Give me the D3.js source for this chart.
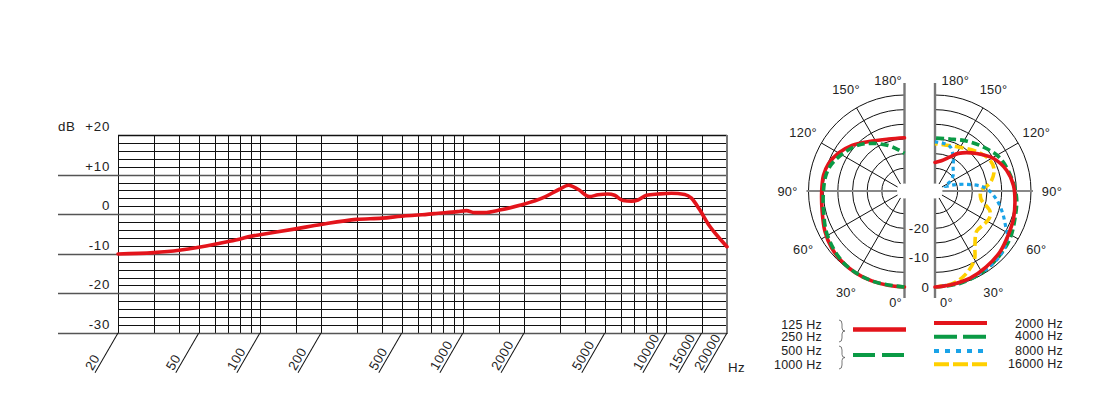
<!DOCTYPE html>
<html><head><meta charset="utf-8">
<script src="https://cdn.jsdelivr.net/npm/d3@7"></script>
<style>
html,body{margin:0;padding:0;background:#fff;}
text{font-family:"Liberation Sans",Arial,sans-serif;fill:#222;}
</style></head>
<body>
<svg id="chart" width="1108" height="414"></svg>
<script>
// ---------- frequency response data ----------
const freqTicks = [20,50,100,200,500,1000,2000,5000,10000,15000,20000];
const freqTickLabels = ["20","50","100","200","500","1000","2000","5000","10000","15000","20000"];
const gridFreqs = [20,30,40,50,60,70,80,90,100,150,200,300,400,500,600,700,800,900,1000,1500,2000,3000,4000,5000,6000,7000,8000,9000,10000,15000,20000];
const dbMajor = [20,10,0,-10,-20,-30];
const dbMajorLabels = ["+20","+10","0","-10","-20","-30"];
const dbMinor = [18,16,14,12,8,6,4,2,-2,-4,-6,-8,-12,-14,-16,-18,-22,-24,-26,-28];
const respFreq = [20,30,40,50,60,70,80,90,100,150,200,300,400,500,630,720,940,1040,1140,1275,1540,1930,2520,2990,3310,3690,4200,4630,5180,5590,6150,6760,7290,8010,9150,10640,12380,13360,14680,16150,18090,20000];
const respDb = [-10.05,-9.7,-9.1,-8.35,-7.6,-6.9,-6.25,-5.6,-5.2,-3.7,-2.6,-1.3,-1.0,-0.5,-0.15,0.15,0.66,0.9,0.4,0.4,1.1,2.3,4.3,6.3,7.3,6.3,4.45,4.9,5.1,4.8,3.45,3.3,3.6,4.8,5.1,5.3,5.0,4.05,1.1,-2.45,-5.7,-8.2];

// ---------- polar data (angle in degrees, level in dB) ----------
const ringDb = [0,-5,-10,-15,-20,-25];
const ringLabelDb = [0,-10,-20];
const spokeAngles = [30,60,120,150];
const angleLabels = [0,30,60,90,120,150,180];
const lowAng = [0,10,20,31,42,52,63,76,90,101,110,120,131,147,163,180];
const lowDb  = [0,-0.1,-0.1,-0.2,-0.6,-1.2,-2.3,-3.8,-4.5,-4.6,-5.2,-6.8,-9.0,-12.4,-14.2,-14.6];
const midAng = [0,20,40,60,76,90,101,110,122,135,148,161,172,180];
const midDb  = [0,-0.1,-0.6,-2.4,-4.3,-5.1,-5.4,-6.2,-8.3,-10.6,-13.6,-16.4,-18.6,-19.9];
const hz2000Ang = [0,9,22,34,47,59,71,82,94,106,119,132,148,156,168,180];
const hz2000Db  = [0,-0.3,-0.7,-1.5,-2.4,-3.6,-4.4,-5.2,-5.9,-7.3,-9.9,-13.6,-17.6,-20,-22.2,-23];
const hz4000Ang = [0,15,31,45,58,71,85,99,117,132,148,164,180];
const hz4000Db  = [0,-0.1,-0.7,-1.6,-2.5,-3.9,-4.8,-6.2,-7.9,-10.4,-12.6,-14.3,-14.7];
const hz8000Ang = [0,15,25,35,45,52,58,64,72,82,91,96,102,108,115,122,132,142,152,161,170,180];
const hz8000Db  = [0,-0.4,-0.7,-0.9,-1.4,-2.3,-3.6,-6,-8.5,-11.5,-14.5,-17,-21.7,-26,-29,-26.7,-24.3,-22.7,-19.5,-16.8,-16.2,-16];
const hz16000Ang = [0,11,21,30,36,46,55,63,70,80,90,99,110,120,135,155,180];
const hz16000Db  = [0,-0.6,-2.7,-5.8,-9.6,-13,-12.6,-12,-12.8,-16.8,-17,-13.5,-11.3,-11.3,-13.4,-16,-16.6];

const legendLeft = ["125 Hz","250 Hz","500 Hz","1000 Hz"];
const legendRight = ["2000 Hz","4000 Hz","8000 Hz","16000 Hz"];

const RED="#e3141b", GREEN="#0a9a45", BLUE="#1aa3e8", YELLOW="#ffd000";

const svg = d3.select("#chart");
svg.append("rect").attr("width",1108).attr("height",414).attr("fill","#fff");

// ================= frequency response =================
const x = d3.scaleLog().domain([20,20000]).range([118,727]);
const y = d3.scaleLinear().domain([-30,20]).range([333,135]);
const px = v => Math.round(v)+0.5;
const g = svg.append("g");

g.selectAll("line.hmin").data(dbMinor).enter().append("line")
  .attr("x1",x(20)).attr("x2",x(20000)).attr("y1",d=>px(y(d))).attr("y2",d=>px(y(d)))
  .attr("stroke","#111").attr("stroke-width",1);
g.selectAll("line.v").data(gridFreqs).enter().append("line")
  .attr("x1",d=>px(x(d))).attr("x2",d=>px(x(d))).attr("y1",y(20)).attr("y2",y(-30))
  .attr("stroke","#111").attr("stroke-width",1);
g.selectAll("line.hmaj").data(dbMajor).enter().append("line")
  .attr("x1",d=>d===20?x(20):58).attr("x2",x(20000)).attr("y1",d=>px(y(d))).attr("y2",d=>px(y(d)))
  .attr("stroke",d=>d===20?"#111":"#555").attr("stroke-width",1.4);
g.append("line").attr("x1",x(20000)).attr("x2",x(20000)).attr("y1",y(20)).attr("y2",y(-30)+1)
  .attr("stroke","#777").attr("stroke-width",2);
g.selectAll("text.yl").data(dbMajor).enter().append("text")
  .attr("x",110).attr("y",d=>y(d)-4).attr("text-anchor","end")
  .attr("font-size",13.3).attr("letter-spacing",0.7)
  .text((d,i)=>dbMajorLabels[i]);
g.append("text").attr("x",58).attr("y",y(20)-4).attr("font-size",13.3).attr("letter-spacing",0.7).text("dB");
const tk = g.selectAll("g.tk").data(freqTicks).enter().append("g")
  .attr("transform",d=>`translate(${x(d)},${y(-30)}) rotate(-60)`);
tk.append("line").attr("x1",0).attr("x2",-46).attr("y1",0).attr("y2",0).attr("stroke","#111").attr("stroke-width",1);
tk.append("text").attr("x",-46).attr("y",-3).attr("font-size",13.3).attr("letter-spacing",0.5)
  .text((d,i)=>freqTickLabels[i]);
g.append("text").attr("x",728).attr("y",372).attr("font-size",13.3).attr("letter-spacing",0.5).text("Hz");
const resp = respFreq.map((f,i)=>[f,respDb[i]]);
g.append("path").datum(resp)
  .attr("d",d3.line().x(d=>x(d[0])).y(d=>y(d[1])).curve(d3.curveMonotoneX))
  .attr("fill","none").attr("stroke",RED).attr("stroke-width",3.6).attr("stroke-linecap","round").attr("stroke-linejoin","round");

// ================= polar =================
const r = d3.scaleLinear().domain([-30,0]).range([8,96]);
const cy = 191;
const halves = [{cx:904.5, side:-1},{cx:935, side:1}];
const rad = a => a*Math.PI/180;

halves.forEach(h=>{
  const pg = svg.append("g").attr("transform",`translate(${h.cx},${cy})`);
  ringDb.forEach(db=>{
    const p = d3.path();
    if(h.side<0){ p.arc(0,0,r(db),Math.PI/2,3*Math.PI/2,false); }
    else { p.arc(0,0,r(db),-Math.PI/2,Math.PI/2,false); }
    pg.append("path").attr("d",p.toString()).attr("fill","none").attr("stroke","#111").attr("stroke-width",1);
  });
  spokeAngles.forEach(a=>{
    pg.append("line")
      .attr("x1",h.side*r(-30)*Math.sin(rad(a))).attr("y1",r(-30)*Math.cos(rad(a)))
      .attr("x2",h.side*r(0)*Math.sin(rad(a))).attr("y2",r(0)*Math.cos(rad(a)))
      .attr("stroke","#111").attr("stroke-width",1);
  });
  pg.append("line").attr("x1",h.side*5).attr("x2",h.side*(r(0)+2)).attr("y1",0).attr("y2",0)
    .attr("stroke","#888").attr("stroke-width",2);
  pg.append("line").attr("x1",0).attr("x2",0).attr("y1",-108).attr("y2",107)
    .attr("stroke","#777").attr("stroke-width",2.4);
  pg.append("circle").attr("r",7.5).attr("fill","#fff");
  angleLabels.forEach(a=>{
    let tx, ty, anchor="middle";
    if(a===180){ tx = h.side<0?-2.5:6.5; ty=-106; anchor=h.side<0?"end":"start"; }
    else if(a===0){ tx = h.side<0?-2.5:5; ty=116; anchor=h.side<0?"end":"start"; }
    else { const R=117; tx=h.side*R*Math.sin(rad(a)); ty=R*Math.cos(rad(a))+4.5; }
    pg.append("text").attr("x",tx).attr("y",ty).attr("text-anchor",anchor)
      .attr("font-size",12.8).attr("letter-spacing",0.3).text(a+"°");
  });
});
ringLabelDb.forEach(db=>{
  svg.append("text").attr("x",929.5).attr("y",cy+r(db)+4.5).attr("text-anchor","end")
    .attr("font-size",13.3).attr("letter-spacing",0.5).text(String(db));
});

function polarLine(cx, side, angs, dbs, color, dash, width){
  const data = angs.map((a,i)=>[a,dbs[i]]);
  const ln = d3.lineRadial()
    .angle(d => side<0 ? Math.PI + rad(d[0]) : Math.PI - rad(d[0]))
    .radius(d => r(d[1]))
    .curve(d3.curveCatmullRom.alpha(0.5));
  svg.append("path").datum(data)
    .attr("transform",`translate(${cx},${cy})`)
    .attr("d",ln).attr("fill","none").attr("stroke",color).attr("stroke-width",width)
    .attr("stroke-dasharray",dash).attr("stroke-linecap",dash?"butt":"round");
}
polarLine(904.5,-1,lowAng,lowDb,RED,null,3.6);
polarLine(904.5,-1,midAng,midDb,GREEN,"8,4",3.6);
polarLine(935,1,hz4000Ang,hz4000Db,GREEN,"8,4",3.6);
polarLine(935,1,hz16000Ang,hz16000Db,YELLOW,"9,4",3.6);
polarLine(935,1,hz8000Ang,hz8000Db,BLUE,"4,3.5",3.2);
polarLine(935,1,hz2000Ang,hz2000Db,RED,null,3.6);

// ================= legend =================
const lg = svg.append("g");
const leftY = [328.5,340.5,355,368.5];
legendLeft.forEach((t,i)=>{
  lg.append("text").attr("x",822).attr("y",leftY[i]).attr("text-anchor","end").attr("font-size",12.5).attr("letter-spacing",0.2).text(t);
});
const rightY = [328,340,355,368];
legendRight.forEach((t,i)=>{
  lg.append("text").attr("x",1063).attr("y",rightY[i]).attr("text-anchor","end").attr("font-size",12.5).attr("letter-spacing",0.2).text(t);
});
function brace(x0,y0,y1){
  const ym=(y0+y1)/2;
  return `M${x0},${y0} Q${x0+3},${y0} ${x0+3},${y0+4} L${x0+3},${ym-3} Q${x0+3},${ym} ${x0+6},${ym} Q${x0+3},${ym} ${x0+3},${ym+3} L${x0+3},${y1-4} Q${x0+3},${y1} ${x0},${y1}`;
}
lg.append("path").attr("d",brace(839,320,342)).attr("fill","none").attr("stroke","#555").attr("stroke-width",0.8);
lg.append("path").attr("d",brace(839,346,369)).attr("fill","none").attr("stroke","#555").attr("stroke-width",0.8);
const legLines = [
  {x1:853,x2:906,y:329.5,c:RED,d:null,w:4.4},
  {x1:853,x2:906,y:355,c:GREEN,d:"22,7",w:4},
  {x1:934,x2:987,y:323,c:RED,d:null,w:4},
  {x1:934,x2:987,y:336.7,c:GREEN,d:"23,6",w:4},
  {x1:934,x2:987,y:351,c:BLUE,d:"5,6",w:4},
  {x1:934,x2:987,y:364.3,c:YELLOW,d:"15,4",w:4}
];
legLines.forEach(l=>{
  lg.append("line").attr("x1",l.x1).attr("x2",l.x2).attr("y1",l.y).attr("y2",l.y)
    .attr("stroke",l.c).attr("stroke-width",l.w).attr("stroke-dasharray",l.d);
});
</script>
</body></html>
